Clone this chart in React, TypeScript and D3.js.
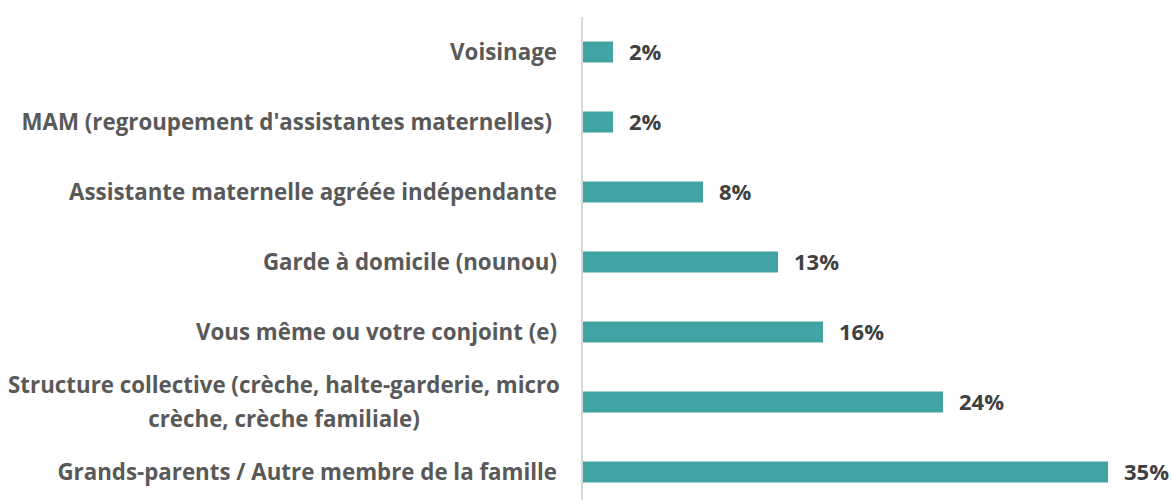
import React from "react";
import * as d3 from "d3";

const categories: string[][] = [
  ["Voisinage"],
  ["MAM (regroupement d'assistantes maternelles)"],
  ["Assistante maternelle agréée indépendante"],
  ["Garde à domicile (nounou)"],
  ["Vous même ou votre conjoint (e)"],
  ["Structure collective (crèche, halte-garderie, micro", "crèche, crèche familiale)"],
  ["Grands-parents / Autre membre de la famille"],
];
const values: number[] = [2, 2, 8, 13, 16, 24, 35];
const valueLabels: string[] = ["2%", "2%", "8%", "13%", "16%", "24%", "35%"];

const W = 1173;
const H = 500;
const FONT = "'Open Sans', sans-serif";

export default function App() {
  const keys = categories.map((_, i) => String(i));
  const x = d3.scaleLinear().domain([0, 35]).range([583, 1108]);
  const y = d3.scaleBand<string>().domain(keys).range([17, 507]).paddingInner(0.7).paddingOuter(0.35);
  const bw = y.bandwidth();
  return (
    <svg width={W} height={H} style={{ position: "absolute", left: 0, top: 0, background: "#fff" }}>
      <line x1={582} x2={582} y1={17} y2={H} stroke="#d9d9d9" strokeWidth={2} />
      {values.map((v, i) => {
        const yc = (y(keys[i]) as number) + bw / 2;
        const lines = categories[i];
        const multi = lines.length > 1;
        return (
          <g key={i}>
            <rect x={x(0)} y={y(keys[i])} width={x(v) - x(0)} height={bw} fill="#41a3a3" />
            <text x={x(v) + 16} y={yc} dy="0.36em" fontFamily={FONT} fontWeight={700} fontSize={22} fill="#404040">
              {valueLabels[i]}
            </text>
            {lines.map((l, j) => (
              <text
                key={j}
                x={multi ? 284 : i === 1 ? 552 : 557}
                y={yc + (j - (lines.length - 1) / 2) * 34}
                dy="0.36em"
                textAnchor={multi ? "middle" : "end"}
                fontFamily={FONT}
                fontWeight={700}
                fontSize={22.3}
                fill="#595959"
              >
                {l}
              </text>
            ))}
          </g>
        );
      })}
    </svg>
  );
}
